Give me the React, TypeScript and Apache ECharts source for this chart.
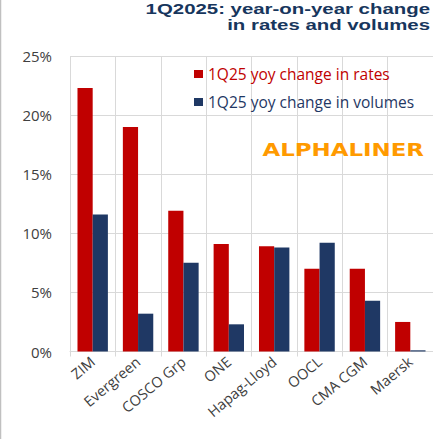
import React, { useEffect, useRef } from "react";
import * as echarts from "echarts";

const categories = ["ZIM", "Evergreen", "COSCO Grp", "ONE", "Hapag-Lloyd", "OOCL", "CMA CGM", "Maersk"];
const ratesChange = [22.3, 19.0, 11.9, 9.1, 8.9, 7.0, 7.0, 2.5];
const volumesChange = [11.6, 3.2, 7.5, 2.3, 8.8, 9.2, 4.3, 0.1];
const seriesNames = ["1Q25 yoy change in rates", "1Q25 yoy change in volumes"];
const titleLines = ["1Q2025: year-on-year change", "in rates and volumes"];
const watermark = "ALPHALINER";

const RED = "#C00000";
const NAVY = "#1F3864";

export default function App() {
  const ref = useRef<HTMLDivElement>(null);
  useEffect(() => {
    document.body.style.margin = "0";
    const chart = echarts.init(ref.current!, null, { renderer: "svg" });
    chart.setOption({
      animation: false,
      backgroundColor: "#FFFFFF",
      grid: { left: 70, right: 0, top: 56, bottom: 87.5, containLabel: false },
      legend: {
        orient: "vertical",
        left: 189,
        top: 61,
        itemWidth: 9,
        itemHeight: 8,
        itemGap: 12,
        icon: "rect",
        data: [
          { name: seriesNames[0], textStyle: { color: RED } },
          { name: seriesNames[1], textStyle: { color: NAVY } },
        ],
        textStyle: { fontFamily: "Open Sans", fontSize: 15.5, padding: [0, 0, 0, 0] },
      },
      xAxis: {
        type: "category",
        data: categories,
        axisLine: { show: true, lineStyle: { color: "#D9D9D9" } },
        axisTick: { show: true, length: 5, lineStyle: { color: "#D9D9D9" } },
        splitLine: { show: true, lineStyle: { color: "#D9D9D9", width: 1 } },
        axisLabel: {
          rotate: 40,
          margin: 8,
          interval: 0,
          color: "#404040",
          fontFamily: "Open Sans",
          fontSize: 14.5,
        },
      },
      yAxis: {
        type: "value",
        min: 0,
        max: 25,
        interval: 5,
        axisLine: { show: false },
        axisTick: { show: false },
        splitLine: { show: true, lineStyle: { color: "#D9D9D9", width: 1 } },
        axisLabel: {
          formatter: "{value}%",
          color: "#404040",
          fontFamily: "Open Sans",
          fontSize: 15,
          margin: 18,
        },
      },
      series: [
        {
          name: seriesNames[0],
          type: "bar",
          data: ratesChange,
          itemStyle: { color: RED },
          barGap: "0%",
          barCategoryGap: "33%",
        },
        {
          name: seriesNames[1],
          type: "bar",
          data: volumesChange,
          itemStyle: { color: NAVY },
          barGap: "0%",
          barCategoryGap: "33%",
        },
      ],
      graphic: [
        {
          type: "line",
          shape: { x1: 0.5, y1: 0, x2: 0.5, y2: 439 },
          style: { stroke: "#C0C0C0", lineWidth: 1.5 },
          silent: true,
        },
        {
          type: "text",
          x: 430,
          y: 8.5,
          scaleX: 1.36,
          style: {
            text: titleLines[0],
            align: "right",
            verticalAlign: "middle",
            fill: "#17365D",
            font: "bold 15px 'Liberation Sans', Arial, sans-serif",
          },
        },
        {
          type: "text",
          x: 430,
          y: 25,
          scaleX: 1.36,
          style: {
            text: titleLines[1],
            align: "right",
            verticalAlign: "middle",
            fill: "#17365D",
            font: "bold 15px 'Liberation Sans', Arial, sans-serif",
          },
        },
        {
          type: "text",
          x: 424,
          y: 150,
          scaleX: 1.31,
          z: 10,
          style: {
            text: watermark,
            align: "right",
            verticalAlign: "middle",
            fill: "#FF9A00",
            font: "bold 17.5px 'DejaVu Sans', sans-serif",
          },
        },
      ],
    });
    return () => chart.dispose();
  }, []);
  return <div ref={ref} style={{ width: 433, height: 439 }} />;
}
